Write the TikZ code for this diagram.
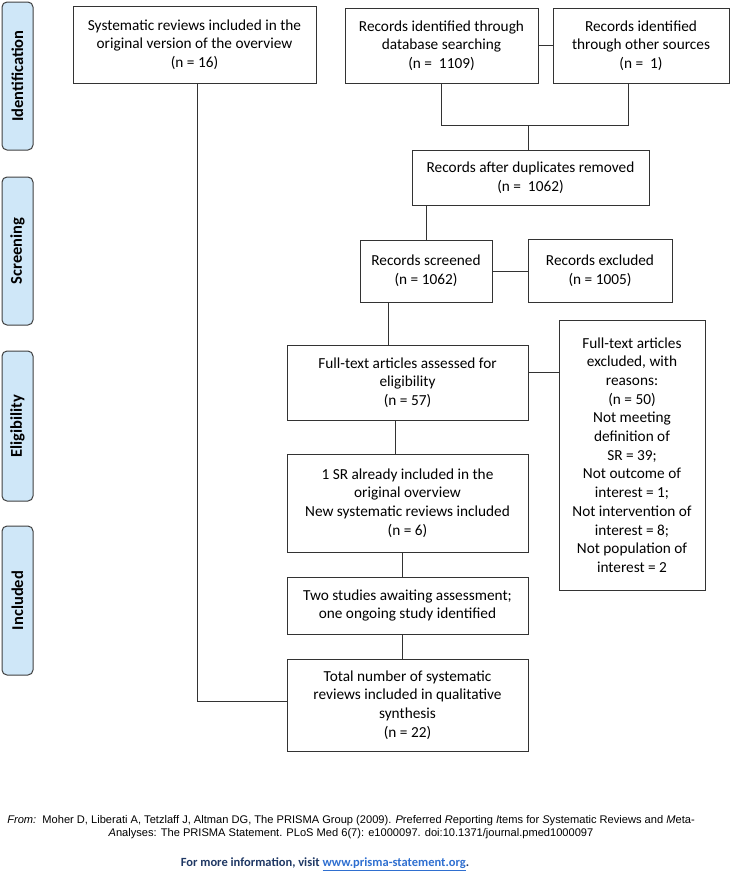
\documentclass[tikz,border=0pt]{standalone}
\usepackage{fontspec}
\setmainfont{Carlito}
\newfontfamily\citefont{Liberation Sans}
\definecolor{stagefill}{HTML}{CFE7F8}
\definecolor{stageline}{HTML}{404040}
\definecolor{boxline}{HTML}{333333}
\definecolor{infonavy}{HTML}{1F3864}
\definecolor{linkblue}{HTML}{2F6FD0}
\tikzset{%
  % Specifications for style of nodes:
       base/.style = {rectangle, draw=boxline, line width=0.8pt,
                      align=center, inner sep=3pt,
                      font=\fontsize{15.3}{18.7}\selectfont},
   flowbox/.style = {base, fill=white},
     stage/.style = {rectangle, rounded corners=5pt, draw=stageline,
                     fill=stagefill, line width=1pt, minimum height=31pt,
                     rotate=90, font=\fontsize{16.5}{19}\selectfont\bfseries},
      link/.style = {draw=boxline, line width=0.8pt},
}

\begin{document}
\begin{tikzpicture}[x=1pt, y=-1pt]
  \useasboundingbox (0,0) rectangle (730,871);
  % Phase labels on the left
  \node (ident)  [stage, minimum width=148pt] at (17.5,76)  {Identification};
  \node (screen) [stage, minimum width=148pt] at (17.5,251) {Screening};
  \node (elig)   [stage, minimum width=150pt] at (17.5,426) {Eligibility};
  \node (incl)   [stage, minimum width=149pt] at (17.5,600.5) {Included};

  % Boxes of the flow
  \node (origsr)   [flowbox, minimum width=243pt, minimum height=77pt] at (194.5,44.5)
        {Systematic reviews included in the\\original version of the overview\\(n = 16)};
  \node (dbsearch) [flowbox, minimum width=193pt, minimum height=75pt] at (441.5,45.5)
        {Records identified through\\database searching\\(n =\ \ 1109)};
  \node (othersrc) [flowbox, minimum width=176pt, minimum height=75pt] at (641,45.5)
        {Records identified\\through other sources\\(n =\ \ 1)};
  \node (dedup)    [flowbox, minimum width=237pt, minimum height=55pt] at (530.5,177.5)
        {Records after duplicates removed\\(n =\ \ 1062)};
  \node (screened) [flowbox, minimum width=132pt, minimum height=62pt] at (426,271)
        {Records screened\\(n = 1062)};
  \node (excluded) [flowbox, minimum width=144pt, minimum height=63pt] at (600,271)
        {Records excluded\\(n = 1005)};
  \node (fulltext) [flowbox, minimum width=241pt, minimum height=75pt] at (407.5,382.5)
        {Full-text articles assessed for\\eligibility\\(n = 57)};
  \node (ftexcl)   [flowbox, minimum width=146pt, minimum height=270pt] at (632,455)
        {Full-text articles\\excluded, with\\reasons:\\(n = 50)\\Not meeting\\definition of\\SR = 39;\\Not outcome of\\interest = 1;\\Not intervention of\\interest = 8;\\Not population of\\interest = 2};
  \node (newsr)    [flowbox, minimum width=241pt, minimum height=98pt] at (407.5,503)
        {1 SR already included in the\\original overview\\New systematic reviews included\\(n = 6)};
  \node (awaiting) [flowbox, minimum width=241pt, minimum height=57pt] at (407.5,605.5)
        {Two studies awaiting assessment;\\one ongoing study identified};
  \node (total)    [flowbox, minimum width=241pt, minimum height=92pt] at (407.5,705)
        {Total number of systematic\\reviews included in qualitative\\synthesis\\(n = 22)};

  % Bend points of the connectors
  \coordinate (merge)    at (528,125);
  \coordinate (otherdrop) at (628,125);
  \coordinate (srdrop)   at (388,0);
  \coordinate (ftdrop)   at (395,0);
  \coordinate (newdrop)  at (402,0);
  \coordinate (exclink)  at (0,372);
  \coordinate (origdrop) at (197,701);

  \draw [link] (dbsearch) -- (othersrc);
  \draw [link] (dbsearch.south) |- (otherdrop) -- (otherdrop |- othersrc.south);
  \draw [link] (merge) -- (merge |- dedup.north);
  \draw [link] (dedup.south -| screened.north) -- (screened.north);
  \draw [link] (screened) -- (excluded);
  \draw [link] (screened.south -| srdrop) -- (fulltext.north -| srdrop);
  \draw [link] (fulltext.east |- exclink) -- (ftexcl.west |- exclink);
  \draw [link] (fulltext.south -| ftdrop) -- (newsr.north -| ftdrop);
  \draw [link] (newsr.south -| newdrop) -- (awaiting.north -| newdrop);
  \draw [link] (awaiting.south -| newdrop) -- (total.north -| newdrop);
  \draw [link] (origsr.south -| origdrop) |- (total.west |- origdrop);

  % Source note
  \node (cite) [align=center, font=\citefont\fontsize{11.1}{13}\selectfont] at (351,827.5)
        {\textit{From:}\ \ Moher D, Liberati A, Tetzlaff J, Altman DG, The PRISMA Group (2009). \textit{P}referred \textit{R}eporting \textit{I}tems for \textit{S}ystematic Reviews and \textit{M}eta-\\\textit{A}nalyses: The PRISMA Statement. PLoS Med 6(7): e1000097. doi:10.1371/journal.pmed1000097};
  \node (info) [font=\fontsize{12.5}{14}\selectfont\bfseries, text=infonavy] at (325,864)
        {For more information, visit \textcolor{linkblue}{\underline{www.prisma-statement.org}}.};
\end{tikzpicture}
\end{document}
